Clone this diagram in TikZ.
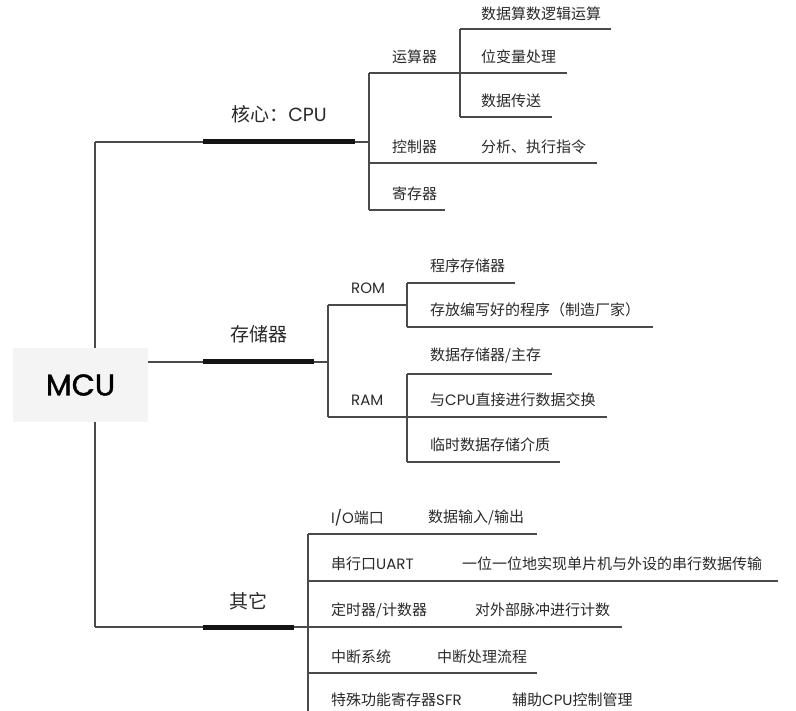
\documentclass[tikz,border=0pt]{standalone}
\usepackage{fontspec}
\setmainfont{Noto Sans CJK SC}
\newfontfamily\lat{Poppins}
\newfontfamily\latb[FakeBold=1.2]{Poppins}
\definecolor{linec}{HTML}{4A4A4A}
\definecolor{txt}{HTML}{2A2A2A}
\definecolor{boxc}{HTML}{F4F4F4}
\tikzset{
  thin/.style={draw=linec, line width=1.3pt},
  bar/.style={draw=black!92, line width=5pt},
  lbl/.style={anchor=west, inner sep=0pt, text=txt, font=\fontsize{15}{18}\selectfont},
  big/.style={inner sep=0pt, text=txt, font=\fontsize{19}{22}\selectfont},
  rootbox/.style={fill=boxc, inner sep=0pt, minimum width=135pt, minimum height=74pt, text=black, font=\latb\fontsize{30}{34}\selectfont}
}
\begin{document}
\begin{tikzpicture}[x=1pt,y=-1pt]
\useasboundingbox[fill=white] (0,0) rectangle (796,711);
% root
\node[rootbox] (mcu) at (80.5,385) {MCU};
% level-1 trunk
\coordinate (r1) at (95,142);
\coordinate (r3) at (95,627);
\draw[thin] (mcu.north -| r1) -- (r1);
\draw[thin] (mcu.south -| r3) -- (r3);

% ---------- CPU ----------
\coordinate (b1s) at (203,142);
\coordinate (b1e) at (355,142);
\coordinate (c1) at (369,142);
\node[big] (cpu) at (279,114) {核心：{\lat CPU}};
\draw[thin] (r1) -- (b1s);
\draw[bar] (b1s) -- (b1e);
\draw[thin] (b1e) -- (c1);
\coordinate (c1t) at (369,73);
\coordinate (c1b) at (369,210);
\draw[thin] (c1t) -- (c1b);
% 运算器
\node[lbl] (alu) at (392,57) {运算器};
\coordinate (alu1) at (460,73);
\coordinate (alu2) at (567,73);
\draw[thin] (c1t) -- (alu1) -- (alu2);
\coordinate (alut) at (460,29);
\coordinate (alub) at (460,117);
\draw[thin] (alut) -- (alub);
\node[lbl] (a1) at (481,14) {数据算数逻辑运算};
\coordinate (a1e) at (611,29);
\draw[thin] (alut) -- (a1e);
\node[lbl] (a2) at (481,57) {位变量处理};
\node[lbl] (a3) at (481,101) {数据传送};
\coordinate (a3e) at (552,117);
\draw[thin] (alub) -- (a3e);
% 控制器
\node[lbl] (ctl) at (392,147) {控制器};
\node[lbl] (ctl1) at (481,147) {分析、执行指令};
\coordinate (ctls) at (369,163);
\coordinate (ctle) at (597,163);
\draw[thin] (ctls) -- (ctle);
% 寄存器
\node[lbl] (reg) at (392,194) {寄存器};
\coordinate (rege) at (445,210);
\draw[thin] (c1b) -- (rege);

% ---------- 存储器 ----------
\coordinate (b2s) at (203,362);
\coordinate (b2e) at (314,362);
\coordinate (c2) at (328,362);
\node[big] (mem) at (258.5,334) {存储器};
\draw[thin] (mcu.east |- b2s) -- (b2s);
\draw[bar] (b2s) -- (b2e);
\draw[thin] (b2e) -- (c2);
\coordinate (c2t) at (328,305);
\coordinate (c2b) at (328,417);
\draw[thin] (c2t) -- (c2b);
% ROM
\node[lbl] (rom) at (351,288) {\lat ROM};
\coordinate (romj) at (407,305);
\draw[thin] (c2t) -- (romj);
\coordinate (romt) at (407,283);
\coordinate (romb) at (407,327);
\draw[thin] (romt) -- (romb);
\node[lbl] (rom1) at (430,266) {程序存储器};
\coordinate (rom1e) at (515,283);
\draw[thin] (romt) -- (rom1e);
\node[lbl] (rom2) at (430,310) {存放编写好的程序（制造厂家）};
\coordinate (rom2e) at (653,327);
\draw[thin] (romb) -- (rom2e);
% RAM
\node[lbl] (ram) at (351,400) {\lat RAM};
\coordinate (ramj) at (407,417);
\coordinate (rame) at (607,417);
\draw[thin] (c2b) -- (ramj) -- (rame);
\coordinate (ramt) at (407,374);
\coordinate (ramb) at (407,462);
\draw[thin] (ramt) -- (ramb);
\node[lbl] (ram1) at (430,356) {数据存储器/主存};
\coordinate (ram1e) at (552,374);
\draw[thin] (ramt) -- (ram1e);
\node[lbl] (ram2) at (430,400) {与{\lat CPU}直接进行数据交换};
\node[lbl] (ram3) at (430,445) {临时数据存储介质};
\coordinate (ram3e) at (560,462);
\draw[thin] (ramb) -- (ram3e);

% ---------- 其它 ----------
\coordinate (b3s) at (203,627);
\coordinate (b3e) at (294,627);
\coordinate (c3) at (308,627);
\node[big] (oth) at (248.5,601) {其它};
\draw[thin] (r3) -- (b3s);
\draw[bar] (b3s) -- (b3e);
\draw[thin] (b3e) -- (c3);
\coordinate (c3t) at (308,534);
\coordinate (c3b) at (308,711);
\draw[thin] (c3t) -- (c3b);
% rows
\node[lbl] (io) at (331,518) {{\lat I/O}端口};
\node[lbl] (io1) at (428,518) {数据输入/输出};
\coordinate (ioe) at (537,534);
\draw[thin] (c3t) -- (ioe);
\node[lbl] (uart) at (331,564) {串行口{\lat UART}};
\node[lbl] (uart1) at (462,564) {一位一位地实现单片机与外设的串行数据传输};
\coordinate (uarts) at (308,581);
\coordinate (uarte) at (778,581);
\draw[thin] (uarts) -- (uarte);
\node[lbl] (tim) at (331,610) {定时器/计数器};
\node[lbl] (tim1) at (475,610) {对外部脉冲进行计数};
\coordinate (time) at (622,627);
\draw[thin] (c3) -- (time);
\node[lbl] (irq) at (331,657) {中断系统};
\node[lbl] (irq1) at (437,657) {中断处理流程};
\coordinate (irqs) at (308,673);
\coordinate (irqe) at (537,673);
\draw[thin] (irqs) -- (irqe);
\node[lbl] (sfr) at (331,700) {特殊功能寄存器{\lat SFR}};
\node[lbl] (sfr1) at (512,700) {辅助{\lat CPU}控制管理};
\end{tikzpicture}
\end{document}
